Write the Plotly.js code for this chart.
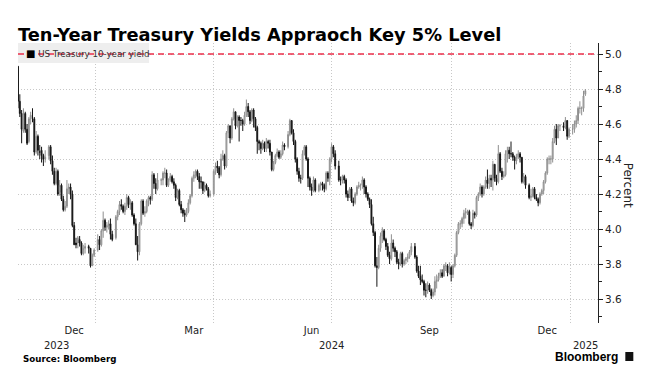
<!DOCTYPE html>
<html>
<head>
<meta charset="utf-8">
<script src="https://cdn.plot.ly/plotly-3.0.1.min.js"></script>
<style>html,body{margin:0;padding:0;background:#fff;}#chart{width:655px;height:381px;}</style>
</head>
<body>
<div id="chart"></div>
<script>
// ---- Text ----
const titleText = 'Ten-Year Treasury Yields Appraoch Key 5% Level';
const seriesName = 'US Treasury 10-year yield';
const yAxisTitle = 'Percent';
const sourceText = 'Source: Bloomberg';
const brandText = 'Bloomberg';

// ---- Dates: trading days between first and last session ----
const firstDay = '2023-11-01';
const lastDay = '2025-01-13';
const holidays = ['2023-11-23','2023-12-25','2024-01-01','2024-01-15','2024-02-19','2024-03-29',
  '2024-05-27','2024-06-19','2024-07-04','2024-09-02','2024-11-28','2024-12-25','2025-01-01'];

// ---- Daily OHLC of the 10-year yield (percent), one line per month ----
const open = [
  4.93,4.73,4.66,4.56,4.66,4.57,4.50,4.63,4.64,4.63,4.44,4.53,4.44,4.45,4.42,4.40,4.42,4.47,4.39,4.33,4.26, // Nov 23
  4.33,4.21,4.25,4.17,4.11,4.13,4.23,4.24,4.20,4.02,3.92,3.92,3.94,3.92,3.86,3.89,3.90,3.89,3.79,3.85,      // Dec 23
  3.88,3.94,3.91,3.99,4.05,4.01,4.02,4.03,3.97,3.95,4.07,4.10,4.14,4.13,4.10,4.13,4.18,4.14,4.15,4.08,4.03, // Jan 24
  3.91,3.87,4.03,4.16,4.09,4.10,4.16,4.18,4.17,4.31,4.26,4.23,4.28,4.28,4.32,4.32,4.25,4.28,4.30,4.27,      // Feb
  4.25,4.18,4.22,4.14,4.11,4.09,4.08,4.10,4.15,4.19,4.29,4.31,4.33,4.30,4.27,4.27,4.22,4.25,4.23,4.19,      // Mar
  4.20,4.33,4.36,4.35,4.31,4.40,4.42,4.36,4.55,4.59,4.52,4.63,4.67,4.59,4.64,4.62,4.62,4.60,4.65,4.70,4.67,4.62, // Apr
  4.68,4.63,4.58,4.50,4.49,4.46,4.49,4.46,4.50,4.49,4.44,4.34,4.38,4.42,4.44,4.41,4.43,4.48,4.47,4.54,4.62,4.55, // May
  4.50,4.40,4.33,4.29,4.29,4.43,4.47,4.40,4.29,4.24,4.22,4.28,4.22,4.25,4.26,4.25,4.23,4.32,4.29,           // Jun
  4.40,4.47,4.43,4.36,4.28,4.28,4.30,4.28,4.20,4.18,4.23,4.16,4.15,4.20,4.24,4.25,4.25,4.28,4.24,4.20,4.17,4.14, // Jul
  4.03,3.98,3.79,3.78,3.89,3.96,3.99,3.94,3.90,3.85,3.83,3.92,3.89,3.87,3.81,3.80,3.86,3.80,3.82,3.83,3.84,3.87, // Aug
  3.90,3.84,3.76,3.73,3.71,3.70,3.65,3.65,3.68,3.65,3.62,3.64,3.70,3.71,3.73,3.75,3.73,3.79,3.79,3.75,      // Sep
  3.78,3.74,3.79,3.85,3.98,4.03,4.03,4.06,4.09,4.10,4.10,4.03,4.02,4.09,4.08,4.18,4.20,4.24,4.20,4.24,4.28,4.26,4.29, // Oct
  4.28,4.37,4.29,4.27,4.43,4.33,4.30,4.31,4.43,4.45,4.43,4.43,4.41,4.39,4.41,4.43,4.41,4.27,4.30,4.25,      // Nov
  4.18,4.19,4.23,4.18,4.17,4.15,4.20,4.22,4.27,4.32,4.40,4.40,4.40,4.50,4.57,4.52,4.59,4.59,4.58,4.62,4.53, // Dec
  4.57,4.57,4.60,4.62,4.69,4.69,4.69,4.77                                                                  // Jan 25
];
const high = [
  4.93,4.77,4.68,4.69,4.67,4.60,4.64,4.67,4.69,4.64,4.56,4.54,4.48,4.47,4.43,4.45,4.48,4.48,4.42,4.35,4.35,
  4.34,4.28,4.26,4.19,4.16,4.28,4.26,4.26,4.22,4.04,3.95,3.96,3.96,3.93,3.91,3.92,3.91,3.89,3.86,3.89,
  3.97,3.96,4.00,4.10,4.06,4.04,4.05,4.06,3.99,4.08,4.11,4.16,4.17,4.14,4.15,4.20,4.19,4.17,4.16,4.09,4.06,
  3.96,4.04,4.17,4.17,4.13,4.17,4.19,4.19,4.33,4.32,4.29,4.32,4.29,4.33,4.35,4.34,4.29,4.32,4.31,4.29,
  4.26,4.23,4.23,4.16,4.12,4.11,4.12,4.17,4.20,4.30,4.33,4.34,4.34,4.32,4.30,4.27,4.27,4.26,4.24,4.22,
  4.34,4.38,4.39,4.36,4.43,4.45,4.43,4.56,4.60,4.59,4.64,4.69,4.67,4.65,4.65,4.64,4.63,4.67,4.74,4.72,4.68,4.69,
  4.69,4.64,4.59,4.51,4.50,4.51,4.50,4.52,4.51,4.51,4.44,4.39,4.43,4.46,4.45,4.45,4.50,4.49,4.56,4.63,4.62,4.57,
  4.51,4.41,4.35,4.31,4.45,4.48,4.48,4.41,4.30,4.26,4.30,4.29,4.26,4.27,4.27,4.26,4.33,4.33,4.41,
  4.49,4.48,4.45,4.39,4.30,4.31,4.31,4.29,4.22,4.24,4.24,4.18,4.21,4.25,4.27,4.26,4.30,4.29,4.25,4.21,4.18,4.17,
  4.07,3.99,3.84,3.91,3.98,4.01,4.00,3.95,3.92,3.87,3.97,3.94,3.90,3.88,3.83,3.87,3.87,3.83,3.84,3.86,3.88,3.92,
  3.92,3.85,3.79,3.79,3.74,3.71,3.69,3.70,3.69,3.66,3.66,3.73,3.74,3.75,3.77,3.77,3.80,3.81,3.80,3.81,
  3.79,3.80,3.86,3.99,4.04,4.05,4.07,4.11,4.12,4.11,4.11,4.04,4.11,4.10,4.19,4.21,4.26,4.25,4.25,4.30,4.34,4.31,4.31,
  4.39,4.37,4.31,4.48,4.44,4.35,4.33,4.45,4.47,4.47,4.50,4.44,4.42,4.43,4.45,4.44,4.41,4.32,4.31,4.26,
  4.23,4.24,4.24,4.20,4.18,4.21,4.23,4.28,4.33,4.41,4.42,4.42,4.52,4.59,4.60,4.60,4.60,4.61,4.64,4.62,4.58,
  4.60,4.62,4.65,4.70,4.73,4.70,4.79,4.80
];
const low = [
  4.69,4.64,4.49,4.55,4.55,4.48,4.49,4.60,4.61,4.42,4.43,4.42,4.40,4.38,4.36,4.38,4.40,4.37,4.31,4.25,4.25,
  4.19,4.19,4.16,4.10,4.10,4.12,4.20,4.17,4.01,3.91,3.89,3.89,3.90,3.85,3.85,3.86,3.86,3.78,3.79,3.84,
  3.87,3.88,3.90,3.95,3.99,3.98,4.00,3.94,3.93,3.94,4.05,4.08,4.11,4.09,4.08,4.11,4.12,4.11,4.07,4.02,3.91,
  3.82,3.85,4.02,4.08,4.07,4.09,4.13,4.14,4.16,4.23,4.20,4.22,4.25,4.25,4.29,4.24,4.24,4.27,4.26,4.23,
  4.16,4.17,4.13,4.09,4.07,4.04,4.07,4.09,4.14,4.18,4.27,4.29,4.28,4.23,4.23,4.20,4.21,4.22,4.18,4.18,
  4.19,4.31,4.32,4.29,4.30,4.39,4.34,4.35,4.52,4.49,4.51,4.62,4.57,4.58,4.50,4.59,4.56,4.59,4.64,4.64,4.60,4.61,
  4.58,4.56,4.43,4.45,4.43,4.45,4.44,4.44,4.46,4.42,4.33,4.33,4.37,4.41,4.40,4.40,4.42,4.45,4.46,4.53,4.54,4.48,
  4.38,4.31,4.27,4.26,4.28,4.42,4.39,4.24,4.22,4.19,4.21,4.21,4.21,4.22,4.22,4.21,4.22,4.27,4.25,
  4.38,4.41,4.34,4.27,4.25,4.26,4.26,4.18,4.16,4.18,4.15,4.13,4.14,4.19,4.23,4.22,4.23,4.20,4.18,4.16,4.12,4.02,
  3.96,3.78,3.67,3.77,3.87,3.92,3.93,3.88,3.84,3.80,3.82,3.87,3.84,3.80,3.77,3.79,3.78,3.79,3.80,3.81,3.83,3.85,
  3.83,3.75,3.72,3.68,3.69,3.62,3.61,3.63,3.64,3.60,3.61,3.62,3.66,3.70,3.72,3.72,3.73,3.76,3.73,3.74,
  3.70,3.72,3.78,3.84,3.97,4.00,4.01,4.03,4.06,4.08,4.02,4.00,4.01,4.06,4.07,4.16,4.19,4.18,4.19,4.23,4.23,4.23,4.24,
  4.22,4.27,4.25,4.26,4.32,4.28,4.29,4.30,4.38,4.40,4.41,4.39,4.34,4.37,4.40,4.38,4.26,4.26,4.23,4.17,
  4.16,4.18,4.17,4.16,4.13,4.14,4.19,4.20,4.26,4.31,4.37,4.37,4.38,4.49,4.48,4.52,4.56,4.56,4.57,4.51,4.52,
  4.54,4.55,4.58,4.60,4.66,4.65,4.67,4.76
];
const close = [
  4.73,4.66,4.57,4.66,4.57,4.49,4.63,4.65,4.64,4.44,4.53,4.45,4.44,4.42,4.40,4.41,4.47,4.39,4.33,4.26,4.33,
  4.20,4.25,4.17,4.11,4.13,4.23,4.24,4.20,4.02,3.91,3.91,3.95,3.92,3.86,3.89,3.90,3.89,3.79,3.85,3.88,
  3.94,3.91,3.99,4.05,4.01,4.02,4.03,3.97,3.94,4.07,4.10,4.14,4.13,4.10,4.13,4.18,4.14,4.15,4.08,4.03,3.91,
  3.87,4.03,4.16,4.09,4.10,4.16,4.18,4.17,4.31,4.26,4.23,4.28,4.28,4.32,4.32,4.25,4.28,4.30,4.27,4.25,
  4.18,4.22,4.14,4.11,4.09,4.08,4.10,4.15,4.19,4.29,4.31,4.33,4.30,4.27,4.27,4.22,4.25,4.23,4.19,4.20,
  4.33,4.36,4.35,4.31,4.40,4.42,4.36,4.55,4.59,4.52,4.63,4.67,4.59,4.64,4.62,4.62,4.60,4.65,4.70,4.67,4.62,4.68,
  4.63,4.58,4.50,4.49,4.46,4.49,4.46,4.50,4.49,4.44,4.34,4.38,4.42,4.44,4.41,4.43,4.48,4.47,4.54,4.62,4.55,4.50,
  4.40,4.33,4.29,4.29,4.43,4.47,4.40,4.29,4.24,4.22,4.28,4.22,4.25,4.26,4.25,4.23,4.32,4.29,4.40,
  4.47,4.43,4.36,4.28,4.28,4.30,4.28,4.20,4.18,4.23,4.16,4.15,4.20,4.24,4.25,4.25,4.28,4.24,4.20,4.17,4.14,4.03,
  3.98,3.79,3.78,3.89,3.96,3.99,3.94,3.90,3.85,3.83,3.92,3.89,3.87,3.81,3.80,3.86,3.80,3.82,3.83,3.84,3.87,3.90,
  3.84,3.76,3.73,3.71,3.70,3.65,3.65,3.68,3.65,3.62,3.64,3.70,3.71,3.73,3.75,3.73,3.79,3.79,3.75,3.78,
  3.74,3.79,3.85,3.98,4.03,4.03,4.06,4.09,4.10,4.10,4.03,4.02,4.09,4.08,4.18,4.20,4.24,4.20,4.24,4.28,4.26,4.29,4.28,
  4.37,4.29,4.27,4.43,4.33,4.30,4.31,4.43,4.45,4.43,4.43,4.41,4.39,4.41,4.43,4.41,4.27,4.30,4.25,4.18,
  4.19,4.23,4.18,4.17,4.15,4.20,4.22,4.27,4.32,4.40,4.40,4.40,4.50,4.57,4.52,4.59,4.59,4.58,4.62,4.53,4.57,
  4.57,4.60,4.62,4.69,4.69,4.69,4.76,4.79
];

// ---- Reference level and axis labels ----
const keyLevel = 5.0;
const yTickVals = [3.6, 3.8, 4.0, 4.2, 4.4, 4.6, 4.8, 5.0];
const monthTickDates = ['2023-12-14', '2024-03-15', '2024-06-14', '2024-09-13', '2024-12-13'];
const monthTickText = ['Dec', 'Mar', 'Jun', 'Sep', 'Dec'];
const quarterGridDates = ['2024-01-01', '2024-04-01', '2024-07-01', '2024-10-01', '2025-01-01'];
const yearLabelDates = ['2023-11-30', '2024-07-01', '2025-01-13'];
const yearLabelText = ['2023', '2024', '2025'];
const xRange = ['2023-11-01', '2025-01-22'];
const yRange = [3.463, 5.063];

// build trading-day list
function tradingDays(start, end, skip) {
  const out = [];
  const d = new Date(start + 'T00:00:00Z');
  const e = new Date(end + 'T00:00:00Z');
  while (d <= e) {
    const wd = d.getUTCDay();
    const s = d.toISOString().slice(0, 10);
    if (wd !== 0 && wd !== 6 && skip.indexOf(s) < 0) out.push(s);
    d.setUTCDate(d.getUTCDate() + 1);
  }
  return out;
}
const dates = tradingDays(firstDay, lastDay, holidays);
if (dates.length !== close.length) console.error('length mismatch', dates.length, close.length);

const FONT = 'DejaVu Sans';
const GRID = '#c8c8c8';
const candle = {
  type: 'candlestick',
  x: dates, open: open, high: high, low: low, close: close,
  name: seriesName,
  increasing: { line: { color: '#8f8f8f', width: 1 }, fillcolor: '#d2d2d2' },
  decreasing: { line: { color: '#151515', width: 1 }, fillcolor: '#151515' },
  whiskerwidth: 0,
  hoverinfo: 'skip',
  showlegend: false
};

const annotations = [];
yearLabelText.forEach((t, i) => annotations.push({
  text: t, x: yearLabelDates[i], xref: 'x', y: -0.0786, yref: 'paper',
  xanchor: 'center', yanchor: 'middle', showarrow: false,
  font: { family: FONT, size: 10, color: '#222' }
}));
annotations.push({
  text: '<span style="color:#000;font-size:10px">■</span> ' + seriesName,
  x: 0.0095, xref: 'paper', xanchor: 'left', y: 0.9625, yref: 'paper', yanchor: 'middle',
  showarrow: false, font: { family: FONT, size: 8.7, color: '#333' }
});
annotations.push({
  text: yAxisTitle, textangle: 90, x: 1.0523, xref: 'paper', xanchor: 'center',
  y: 0.493, yref: 'paper', yanchor: 'middle', showarrow: false,
  font: { family: FONT, size: 12, color: '#222' }
});
annotations.push({
  text: sourceText, x: 0.005, xref: 'paper', xanchor: 'left', y: -0.1286, yref: 'paper', yanchor: 'middle',
  showarrow: false, font: { family: FONT, size: 8.7, color: '#000', weight: 700 }
});
annotations.push({
  text: brandText, x: 1.0385, xref: 'paper', xanchor: 'right', y: -0.121, yref: 'paper', yanchor: 'middle',
  showarrow: false, font: { family: 'Liberation Sans', size: 12, color: '#000', weight: 700 }
});

const layout = {
  width: 655, height: 381,
  margin: { l: 18, r: 57, t: 43, b: 58, pad: 0 },
  paper_bgcolor: '#ffffff', plot_bgcolor: '#ffffff',
  showlegend: false,
  font: { family: FONT, size: 10, color: '#222' },
  title: {
    text: titleText, xref: 'container', x: 18 / 655, xanchor: 'left',
    yref: 'container', y: 1 - 35 / 381, yanchor: 'middle',
    font: { family: FONT, size: 17.8, weight: 700, color: '#000' }
  },
  xaxis: {
    type: 'date', range: xRange,
    rangebreaks: [{ bounds: ['sat', 'mon'] }],
    rangeslider: { visible: false },
    tickmode: 'array', tickvals: monthTickDates, ticktext: monthTickText,
    showgrid: false, zeroline: false, showline: false, ticks: '',
    tickfont: { family: FONT, size: 10, color: '#222' },
    minor: { tickmode: 'array', tickvals: quarterGridDates, showgrid: true,
             gridcolor: GRID, griddash: '1px,2px', gridwidth: 1, ticks: '' }
  },
  yaxis: {
    side: 'right', range: yRange,
    tickmode: 'array', tickvals: yTickVals, tickformat: '.1f',
    showgrid: true, gridcolor: GRID, griddash: '1px,2px', gridwidth: 1,
    zeroline: false, showline: true, linecolor: '#222', linewidth: 1,
    ticks: 'outside', ticklen: 4, tickcolor: '#222', tickwidth: 1,
    tickfont: { family: FONT, size: 10.5, color: '#222' },
    minor: { dtick: 0.1, ticks: 'outside', ticklen: 3, tickcolor: '#222', showgrid: false }
  },
  shapes: [
    { type: 'rect', xref: 'paper', yref: 'paper', x0: 0, x1: 0.226, y0: 0.9286, y1: 1,
      fillcolor: '#eeeeee', line: { width: 0 }, layer: 'above' },
    { type: 'line', xref: 'paper', yref: 'y', x0: 0, x1: 1, y0: keyLevel, y1: keyLevel,
      line: { color: '#ec2f4b', width: 1.5, dash: '6px,4px' }, layer: 'above' },
    { type: 'rect', xref: 'paper', yref: 'paper', x0: 1.0471, x1: 1.0609, y0: -0.1357, y1: -0.1036,
      fillcolor: '#111', line: { width: 0 } }
  ],
  annotations: annotations
};

Plotly.newPlot('chart', [candle], layout, { staticPlot: true, displayModeBar: false });
</script>
</body>
</html>
